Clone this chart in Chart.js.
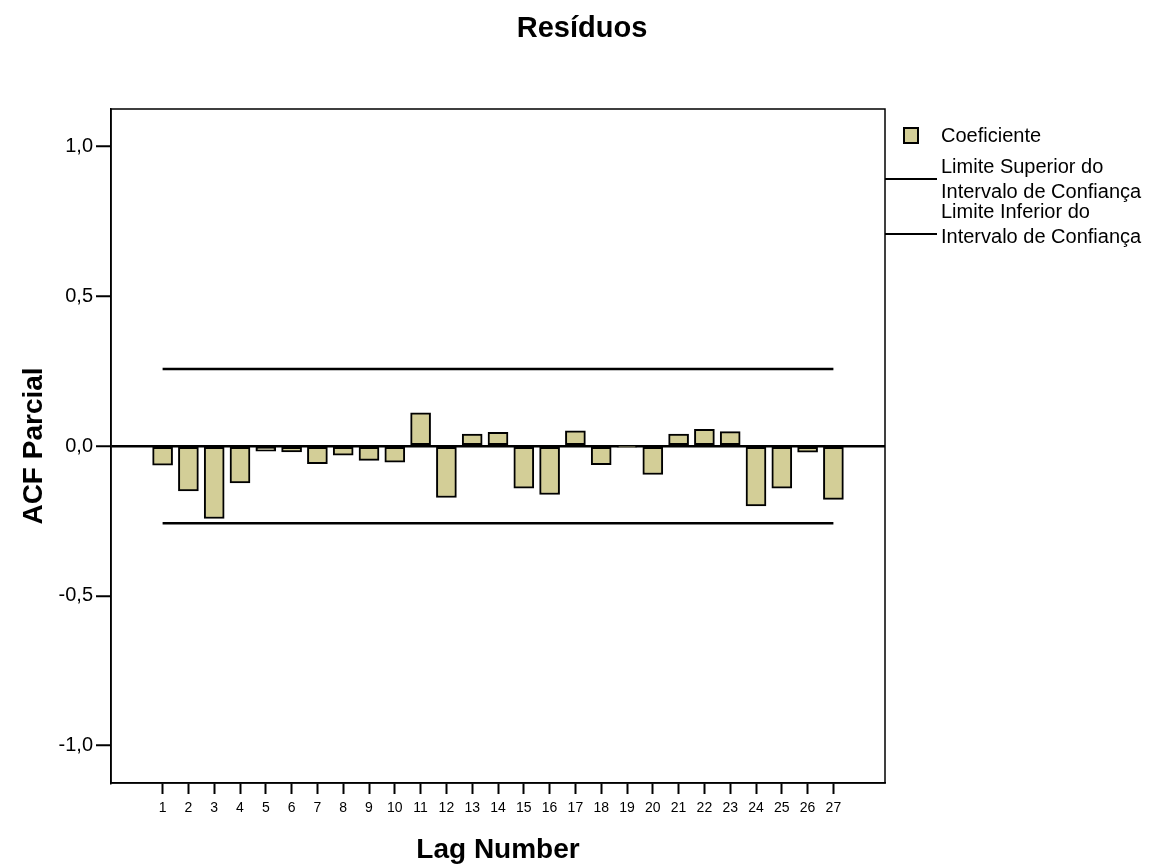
<!DOCTYPE html>
<html>
<head>
<meta charset="utf-8">
<script src="https://cdn.jsdelivr.net/npm/chart.js@4"></script>
<style>
  body { margin: 0; background: #fff; }
  #wrap { width: 1151px; height: 867px; }
</style>
</head>
<body>
<div id="wrap"><canvas id="myChart"></canvas></div>
<script>
const lags = [1, 2, 3, 4, 5, 6, 7, 8, 9, 10, 11, 12, 13, 14, 15, 16, 17, 18, 19, 20, 21, 22, 23, 24, 25, 26, 27];
const coeficiente = [-0.064, -0.150, -0.242, -0.123, -0.017, -0.020, -0.059, -0.031, -0.048, -0.054,
  0.111, -0.172, 0.040, 0.046, -0.141, -0.162, 0.051, -0.062, -0.002, -0.095,
  0.040, 0.056, 0.048, -0.200, -0.141, -0.021, -0.178];
const limiteSuperior = 0.257;
const limiteInferior = -0.258;
const yTicks = [-1, -0.5, 0, 0.5, 1];
const chartTitle = 'Resíduos';
const legendLabels = [
  ['Coeficiente'],
  ['Limite Superior do', 'Intervalo de Confiança'],
  ['Limite Inferior do', 'Intervalo de Confiança'],
];

const FONT = 'Liberation Sans, Arial, sans-serif';
const BAR_COLOR = '#d3ce97';

// title, frame around the plot and the SPSS style legend on the right
const framePlugin = {
  id: 'frame',
  afterDraw(chart) {
    const { ctx, chartArea: a } = chart;
    ctx.save();
    ctx.fillStyle = '#000';
    ctx.font = 'bold 29px ' + FONT;
    ctx.textAlign = 'center';
    ctx.textBaseline = 'middle';
    ctx.fillText(chartTitle, 582, 29);

    ctx.strokeStyle = '#000';
    ctx.lineWidth = 1.5;
    ctx.strokeRect(a.left, a.top, a.right - a.left, a.bottom - a.top);

    ctx.font = '20px ' + FONT;
    ctx.textAlign = 'left';

    // Coeficiente
    ctx.fillStyle = BAR_COLOR;
    ctx.fillRect(904, 128, 14, 15);
    ctx.lineWidth = 2;
    ctx.strokeRect(904, 128, 14, 15);
    ctx.fillStyle = '#000';
    ctx.fillText(legendLabels[0][0], 941, 136);

    // limits
    ctx.fillText(legendLabels[1][0], 941, 167);
    ctx.fillText(legendLabels[1][1], 941, 192);
    ctx.fillText(legendLabels[2][0], 941, 212);
    ctx.fillText(legendLabels[2][1], 941, 237);
    ctx.lineWidth = 2;
    ctx.beginPath();
    ctx.moveTo(a.right, 179); ctx.lineTo(937, 179);
    ctx.moveTo(a.right, 234); ctx.lineTo(937, 234);
    ctx.stroke();
    ctx.restore();
  }
};

new Chart(document.getElementById('myChart'), {
  type: 'bar',
  data: {
    datasets: [
      {
        type: 'line',
        label: 'Limite Superior do Intervalo de Confiança',
        data: lags.map(l => ({ x: l, y: limiteSuperior })),
        borderColor: '#000',
        borderWidth: 2.5,
        pointRadius: 0,
        tension: 0,
      },
      {
        type: 'line',
        label: 'Limite Inferior do Intervalo de Confiança',
        data: lags.map(l => ({ x: l, y: limiteInferior })),
        borderColor: '#000',
        borderWidth: 2.5,
        pointRadius: 0,
        tension: 0,
      },
      {
        label: 'Coeficiente',
        data: lags.map((l, i) => ({ x: l, y: coeficiente[i] })),
        backgroundColor: BAR_COLOR,
        borderColor: '#000',
        borderWidth: 2,
        borderSkipped: false,
        barThickness: 20,
      },
    ],
  },
  options: {
    responsive: true,
    maintainAspectRatio: false,
    animation: false,
    layout: { padding: { right: 266, left: 0, bottom: 0, top: 109 } },
    plugins: {
      legend: { display: false },
      tooltip: { enabled: false },
      title: { display: false },
    },
    scales: {
      x: {
        type: 'linear',
        min: -1,
        max: 29,
        offset: false,
        afterFit(scale) { scale.height = 84; },
        afterBuildTicks(scale) { scale.ticks = lags.map(v => ({ value: v })); },
        grid: {
          offset: false,
          drawOnChartArea: false,
          drawTicks: true,
          tickLength: 11,
          tickColor: '#000',
          tickWidth: 2,
        },
        border: { display: true, color: '#000', width: 1.5 },
        ticks: {
          color: '#000',
          font: { family: FONT, size: 14 },
          padding: 6,
          maxRotation: 0,
          autoSkip: false,
        },
        title: {
          display: true,
          text: 'Lag Number',
          color: '#000',
          font: { family: FONT, size: 28, weight: 'bold' },
          padding: { top: 0, bottom: 0 },
        },
      },
      y: {
        min: -1.125,
        max: 1.125,
        afterFit(scale) { scale.width = 111; },
        afterBuildTicks(scale) { scale.ticks = yTicks.map(v => ({ value: v })); },
        grid: {
          color: ctx => (ctx.tick && ctx.tick.value === 0 ? '#000' : 'rgba(0,0,0,0)'),
          lineWidth: 2.5,
          drawTicks: true,
          tickLength: 15,
          tickColor: '#000',
          tickWidth: 2,
        },
        border: { display: true, color: '#000', width: 1.5 },
        ticks: {
          color: '#000',
          font: { family: FONT, size: 20 },
          padding: 3,
          callback: v => v.toFixed(1).replace('.', ','),
        },
        title: {
          display: true,
          text: 'ACF Parcial',
          color: '#000',
          font: { family: FONT, size: 28, weight: 'bold' },
          padding: { top: 17, bottom: 0 },
        },
      },
    },
  },
  plugins: [framePlugin],
});
</script>
</body>
</html>
